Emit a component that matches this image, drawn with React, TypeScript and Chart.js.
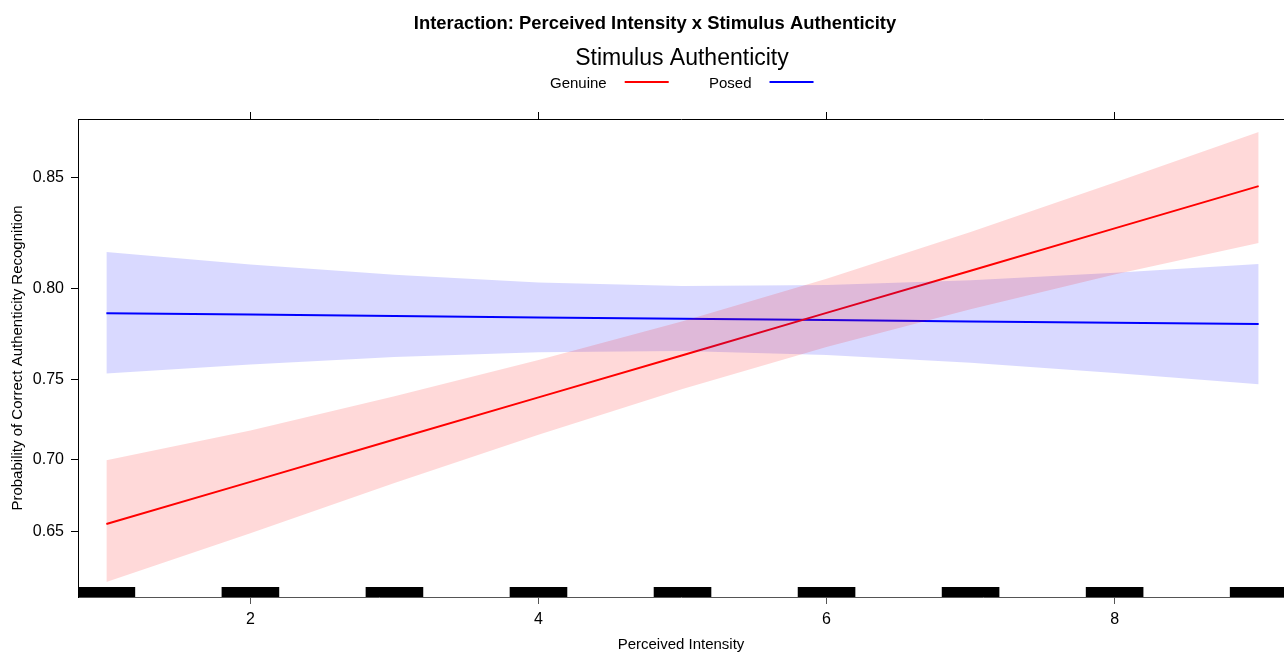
import React, { useEffect, useRef } from 'react';
import { Chart, registerables } from 'chart.js';

Chart.register(...registerables);

// ---- data ----
const intensity = [1, 2, 3, 4, 5, 6, 7, 8, 9];
const genuineFit = [0.6555, 0.6849, 0.713, 0.7394, 0.7642, 0.7874, 0.8088, 0.8286, 0.8467];
const genuineLower = [0.6131, 0.649, 0.6841, 0.716, 0.7444, 0.7688, 0.7893, 0.807, 0.822];
const genuineUpper = [0.6995, 0.7188, 0.7401, 0.7615, 0.783, 0.8049, 0.827, 0.8482, 0.8676];
const posedFit = [0.7872, 0.7865, 0.7858, 0.785, 0.7843, 0.7836, 0.7828, 0.7821, 0.7814];
const posedLower = [0.7537, 0.7588, 0.7631, 0.7659, 0.7665, 0.7643, 0.7599, 0.754, 0.7473];
const posedUpper = [0.8178, 0.8118, 0.8068, 0.803, 0.8012, 0.8017, 0.8041, 0.8078, 0.812];
const rugValues = [1, 2, 3, 4, 5, 6, 7, 8, 9];
const rugJitter = 0.2;
const xTicks = [2, 4, 6, 8];
const yTicks = [0.65, 0.7, 0.75, 0.8, 0.85];
const xRange = [0.803, 9.176];
const yRange = [0.6019, 0.8722];
const seriesNames = ['Genuine', 'Posed'];
const seriesColors = ['#ff0000', '#0000ff'];
const bandColors = ['rgba(255,0,0,0.15)', 'rgba(0,0,255,0.15)'];

const mainTitle = 'Interaction: Perceived Intensity x Stimulus Authenticity';
const legendTitle = 'Stimulus Authenticity';
const xTitle = 'Perceived Intensity';
const yTitle = 'Probability of Correct Authenticity Recognition';

const FAMILY = '"Liberation Sans", Arial, Helvetica, sans-serif';

const logit = (p: number) => Math.log(p / (1 - p));
const invLogit = (v: number) => 1 / (1 + Math.exp(-v));
const pts = (ys: number[]) => intensity.map((x, i) => ({ x, y: logit(ys[i]) }));

const decorPlugin = {
  id: 'decor',
  afterDatasetsDraw(chart: any) {
    const { ctx, chartArea, scales } = chart;
    const xs = scales.x;
    ctx.save();
    ctx.beginPath();
    ctx.rect(chartArea.left, chartArea.top, chartArea.right - chartArea.left, chartArea.bottom - chartArea.top);
    ctx.clip();
    ctx.fillStyle = '#000';
    rugValues.forEach((v) => {
      const a = xs.getPixelForValue(v - rugJitter);
      const b = xs.getPixelForValue(v + rugJitter);
      ctx.fillRect(a, chartArea.bottom - 10, b - a, 10);
    });
    ctx.restore();
  },
  afterDraw(chart: any) {
    const { ctx } = chart;
    ctx.save();
    ctx.fillStyle = '#000';
    ctx.textBaseline = 'alphabetic';
    ctx.textAlign = 'center';
    ctx.font = `bold 18.4px ${FAMILY}`;
    ctx.fillText(mainTitle, 655, 29);
    ctx.font = `23px ${FAMILY}`;
    ctx.fillText(legendTitle, 682, 65);
    // legend items: text followed by a line sample
    ctx.font = `15px ${FAMILY}`;
    ctx.textAlign = 'left';
    const starts = [550, 709];
    seriesNames.forEach((name, i) => {
      const x0 = starts[i];
      ctx.fillStyle = '#000';
      ctx.fillText(name, x0, 88);
      const w = ctx.measureText(name).width;
      ctx.strokeStyle = seriesColors[i];
      ctx.lineWidth = 2;
      ctx.beginPath();
      ctx.moveTo(x0 + w + 18, 82);
      ctx.lineTo(x0 + w + 62, 82);
      ctx.stroke();
    });
    ctx.restore();
  },
};

export default function App() {
  const ref = useRef<HTMLCanvasElement | null>(null);
  useEffect(() => {
    if (!ref.current) return;
    const xTickBuild = (s: any) => {
      s.ticks = xTicks.map((v) => ({ value: v }));
    };
    const chart = new Chart(ref.current, {
      type: 'line',
      data: {
        datasets: [
          {
            label: seriesNames[0] + ' upper',
            data: pts(genuineUpper),
            borderWidth: 0,
            pointRadius: 0,
            backgroundColor: bandColors[0],
            fill: '+1',
          },
          { label: seriesNames[0] + ' lower', data: pts(genuineLower), borderWidth: 0, pointRadius: 0, fill: false },
          {
            label: seriesNames[1] + ' upper',
            data: pts(posedUpper),
            borderWidth: 0,
            pointRadius: 0,
            backgroundColor: bandColors[1],
            fill: '+1',
          },
          { label: seriesNames[1] + ' lower', data: pts(posedLower), borderWidth: 0, pointRadius: 0, fill: false },
          {
            label: seriesNames[0],
            data: pts(genuineFit),
            borderColor: seriesColors[0],
            borderWidth: 2,
            pointRadius: 0,
            fill: false,
          },
          {
            label: seriesNames[1],
            data: pts(posedFit),
            borderColor: seriesColors[1],
            borderWidth: 2,
            pointRadius: 0,
            fill: false,
          },
        ],
      },
      options: {
        animation: false,
        responsive: false,
        devicePixelRatio: 1,
        events: [],
        layout: { padding: { top: 112, left: 0, right: 0, bottom: 0 } },
        plugins: {
          legend: { display: false },
          title: { display: false },
          tooltip: { enabled: false },
        },
        scales: {
          x: {
            type: 'linear',
            position: 'bottom',
            min: xRange[0],
            max: xRange[1],
            afterBuildTicks: xTickBuild,
            afterFit: (s: any) => {
              s.height = 57;
            },
            grid: { drawOnChartArea: false, drawTicks: true, tickLength: 7, color: '#555' },
            border: { display: true, color: '#555', width: 1 },
            ticks: {
              color: '#000',
              font: { size: 16, family: FAMILY },
              padding: 6,
              maxRotation: 0,
              callback: (v: any) => String(v),
            },
            title: {
              display: true,
              text: xTitle,
              color: '#000',
              font: { size: 15, family: FAMILY },
              padding: { top: 0, bottom: 0 },
            },
          },
          x2: {
            type: 'linear',
            position: 'top',
            min: xRange[0],
            max: xRange[1],
            afterBuildTicks: xTickBuild,
            afterFit: (s: any) => {
              s.height = 7;
            },
            grid: { drawOnChartArea: false, drawTicks: true, tickLength: 7, color: '#000' },
            border: { display: true, color: '#000', width: 1 },
            ticks: { display: false },
          },
          y: {
            type: 'linear',
            position: 'left',
            min: logit(yRange[0]),
            max: logit(yRange[1]),
            afterBuildTicks: (s: any) => {
              s.ticks = yTicks.map((p) => ({ value: logit(p) }));
            },
            afterFit: (s: any) => {
              s.width = 78;
            },
            grid: { drawOnChartArea: false, drawTicks: true, tickLength: 7, color: '#000' },
            border: { display: true, color: '#000', width: 1 },
            ticks: {
              color: '#000',
              font: { size: 16, family: FAMILY },
              padding: 7,
              callback: (v: any) => invLogit(Number(v)).toFixed(2),
            },
            title: {
              display: true,
              text: yTitle,
              color: '#000',
              font: { size: 15, family: FAMILY },
              padding: { top: 9, bottom: 0 },
            },
          },
        },
      },
      plugins: [decorPlugin],
    } as any);
    return () => chart.destroy();
  }, []);
  return (
    <div style={{ position: 'absolute', left: 0, top: 0, width: 1284, height: 654, background: '#fff' }}>
      <canvas ref={ref} width={1284} height={654} style={{ display: 'block' }} />
    </div>
  );
}
